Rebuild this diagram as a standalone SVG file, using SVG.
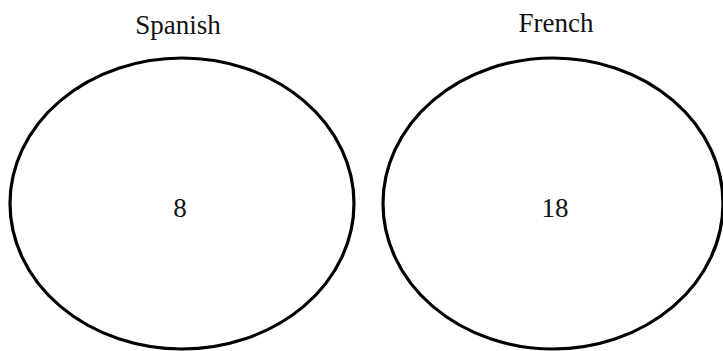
<svg xmlns="http://www.w3.org/2000/svg" width="723" height="351" viewBox="0 0 723 351">
<style>
.set{fill:none;stroke:#000;stroke-width:3.2}
.t{font-family:"Liberation Serif","Times New Roman",serif;font-size:27px;fill:#111;text-anchor:middle}
</style>
<rect width="723" height="351" fill="#fff"/>
<g id="spanish">
<ellipse class="set" cx="182" cy="203.5" rx="172" ry="145.5"/>
<text class="t" x="178" y="34">Spanish</text>
<text class="t" x="180" y="217">8</text>
</g>
<g id="french">
<ellipse class="set" cx="553" cy="203.5" rx="170" ry="145.5"/>
<text class="t" x="556" y="32">French</text>
<text class="t" x="555" y="217">18</text>
</g>
<g id="connectors"></g>
</svg>
